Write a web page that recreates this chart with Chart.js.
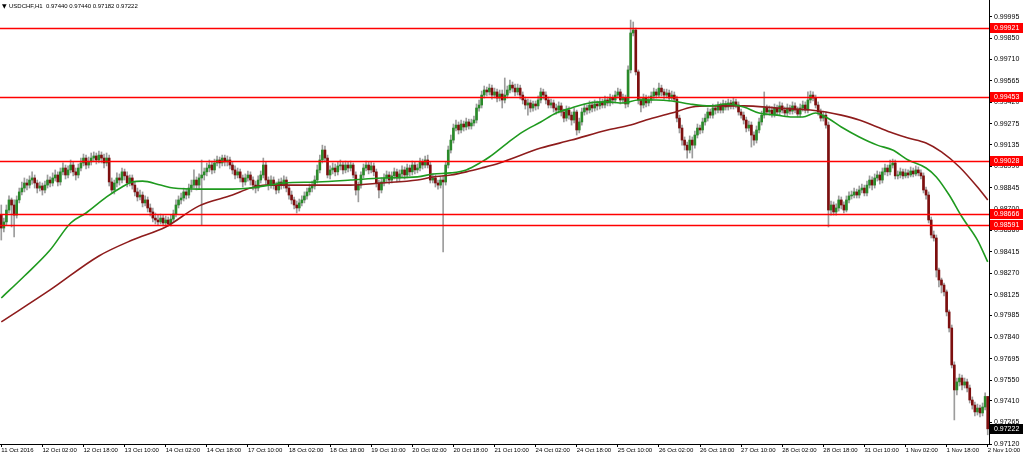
<!DOCTYPE html>
<html>
<head>
<meta charset="utf-8">
<title>USDCHF,H1</title>
<script src="https://cdn.jsdelivr.net/npm/chart.js@4.4.0/dist/chart.umd.min.js"></script>
<style>
    html, body { margin: 0; padding: 0; background: #fff; }
    #wrap { width: 1024px; height: 456px; }
</style>
</head>
<body>
<div id="wrap"><canvas id="priceChart"></canvas></div>
<script>
const symbolTitle = 'USDCHF,H1';
const lastQuote = [0.97440, 0.97440, 0.97182, 0.97222];

// one label every 16 hourly bars
const barsPerLabel = 16;
const timeLabels = ['11 Oct 2016', '12 Oct 02:00', '12 Oct 18:00', '13 Oct 10:00', '14 Oct 02:00', '14 Oct 18:00',
    '17 Oct 10:00', '18 Oct 02:00', '18 Oct 18:00', '19 Oct 10:00', '20 Oct 02:00', '20 Oct 18:00', '21 Oct 10:00',
    '24 Oct 02:00', '24 Oct 18:00', '25 Oct 10:00', '26 Oct 02:00', '26 Oct 18:00', '27 Oct 10:00', '28 Oct 02:00',
    '28 Oct 18:00', '31 Oct 10:00', '1 Nov 02:00', '1 Nov 18:00', '2 Nov 10:00'];

const priceTicks = [0.99995, 0.99850, 0.99710, 0.99565, 0.99420, 0.99275, 0.99135, 0.98990, 0.98845, 0.98700,
    0.98560, 0.98415, 0.98270, 0.98125, 0.97985, 0.97840, 0.97695, 0.97550, 0.97410, 0.97265, 0.97120];
const priceMin = 0.97120;
const priceMax = 1.00109;

const levels = [0.99921, 0.99453, 0.99028, 0.98666, 0.98591];

const opens = [
    0.98661, 0.98574, 0.98615, 0.98695, 0.98763, 0.98729, 0.98661, 0.98763, 0.98817, 0.98843,
    0.98877, 0.98863, 0.98897, 0.98911, 0.98877, 0.98843, 0.98857, 0.98830, 0.98863, 0.98897,
    0.98877, 0.98911, 0.98931, 0.98884, 0.98952, 0.98978, 0.98931, 0.98965, 0.98998, 0.98952,
    0.98931, 0.98978, 0.99012, 0.99045, 0.98998, 0.99019, 0.99045, 0.99059, 0.99032, 0.99065,
    0.99045, 0.99012, 0.99045, 0.98884, 0.98830, 0.98877, 0.98911, 0.98897, 0.98952, 0.98925,
    0.98877, 0.98911, 0.98863, 0.98817, 0.98783, 0.98796, 0.98743, 0.98763, 0.98709, 0.98682,
    0.98641, 0.98628, 0.98615, 0.98641, 0.98608, 0.98628, 0.98601, 0.98634, 0.98668, 0.98729,
    0.98763, 0.98776, 0.98817, 0.98796, 0.98843, 0.98863, 0.98897, 0.98863, 0.98911, 0.98931,
    0.98952, 0.98978, 0.98998, 0.98965, 0.99012, 0.99032, 0.99012, 0.99045, 0.99019, 0.99032,
    0.98998, 0.98965, 0.98931, 0.98952, 0.98911, 0.98884, 0.98911, 0.98931, 0.98897, 0.98863,
    0.98843, 0.98897, 0.98931, 0.98998, 0.98897, 0.98863, 0.98897, 0.98863, 0.98830, 0.98884,
    0.98863, 0.98897, 0.98843, 0.98796, 0.98763, 0.98729, 0.98709, 0.98743, 0.98763, 0.98790,
    0.98817, 0.98843, 0.98857, 0.98897, 0.98965, 0.99032, 0.99099, 0.99045, 0.98931, 0.98965,
    0.98978, 0.98952, 0.98992, 0.98998, 0.98965, 0.98998, 0.98978, 0.98998, 0.98931, 0.98830,
    0.98863, 0.98931, 0.98978, 0.98998, 0.98965, 0.98992, 0.98952, 0.98877, 0.98830, 0.98884,
    0.98911, 0.98931, 0.98897, 0.98925, 0.98952, 0.98911, 0.98938, 0.98965, 0.98931, 0.98978,
    0.98952, 0.98998, 0.98965, 0.98978, 0.99019, 0.98998, 0.99032, 0.98998, 0.98897, 0.98911,
    0.98877, 0.98863, 0.98897, 0.98884, 0.98998, 0.99099, 0.99166, 0.99247, 0.99267, 0.99234,
    0.99274, 0.99254, 0.99288, 0.99261, 0.99281, 0.99301, 0.99382, 0.99402, 0.99469, 0.99503,
    0.99490, 0.99516, 0.99469, 0.99490, 0.99449, 0.99476, 0.99436, 0.99469, 0.99503, 0.99536,
    0.99516, 0.99490, 0.99516, 0.99469, 0.99436, 0.99402, 0.99416, 0.99382, 0.99409, 0.99396,
    0.99436, 0.99490, 0.99469, 0.99436, 0.99402, 0.99416, 0.99382, 0.99368, 0.99396, 0.99355,
    0.99314, 0.99368, 0.99334, 0.99301, 0.99355, 0.99234, 0.99288, 0.99355, 0.99382, 0.99368,
    0.99402, 0.99382, 0.99409, 0.99396, 0.99423, 0.99402, 0.99436, 0.99416, 0.99449, 0.99436,
    0.99469, 0.99490, 0.99436, 0.99449, 0.99409, 0.99638, 0.99887, 0.99907, 0.99625, 0.99436,
    0.99402, 0.99449, 0.99416, 0.99436, 0.99463, 0.99490, 0.99469, 0.99516, 0.99490, 0.99469,
    0.99483, 0.99449, 0.99469, 0.99442, 0.99314, 0.99247, 0.99166, 0.99132, 0.99099, 0.99166,
    0.99132, 0.99200, 0.99247, 0.99234, 0.99288, 0.99314, 0.99355, 0.99334, 0.99382, 0.99368,
    0.99396, 0.99368, 0.99409, 0.99389, 0.99416, 0.99396, 0.99423, 0.99402, 0.99355, 0.99334,
    0.99301, 0.99247, 0.99267, 0.99200, 0.99166, 0.99234, 0.99288, 0.99334, 0.99382, 0.99355,
    0.99368, 0.99341, 0.99382, 0.99355, 0.99396, 0.99368, 0.99348, 0.99382, 0.99361, 0.99396,
    0.99368, 0.99341, 0.99382, 0.99402, 0.99368, 0.99436, 0.99469, 0.99449, 0.99402, 0.99355,
    0.99314, 0.99334, 0.99267, 0.98695, 0.98729, 0.98682, 0.98709, 0.98763, 0.98729, 0.98695,
    0.98763, 0.98790, 0.98796, 0.98817, 0.98796, 0.98830, 0.98843, 0.98810, 0.98863, 0.98897,
    0.98863, 0.98911, 0.98931, 0.98897, 0.98952, 0.98978, 0.98952, 0.98998, 0.99012, 0.98925,
    0.98931, 0.98952, 0.98925, 0.98945, 0.98931, 0.98958, 0.98938, 0.98965, 0.98945, 0.98925,
    0.98830, 0.98796, 0.98628, 0.98527, 0.98507, 0.98291, 0.98224, 0.98190, 0.98144, 0.98009,
    0.97901, 0.97652, 0.97484, 0.97538, 0.97564, 0.97517, 0.97538, 0.97497, 0.97416, 0.97382,
    0.97336, 0.97362, 0.97329, 0.97369, 0.97440
];

const highs = [
    0.98729, 0.98641, 0.98729, 0.98790, 0.98776, 0.98763, 0.98790, 0.98843, 0.98884, 0.98911,
    0.98904, 0.98925, 0.98952, 0.98931, 0.98897, 0.98884, 0.98877, 0.98890, 0.98931, 0.98918,
    0.98945, 0.98965, 0.98952, 0.98978, 0.99012, 0.98998, 0.98992, 0.99032, 0.99019, 0.98978,
    0.99005, 0.99045, 0.99072, 0.99065, 0.99052, 0.99079, 0.99086, 0.99079, 0.99092, 0.99086,
    0.99072, 0.99079, 0.99065, 0.98911, 0.98897, 0.98945, 0.98938, 0.98978, 0.98971, 0.98952,
    0.98931, 0.98931, 0.98884, 0.98843, 0.98830, 0.98817, 0.98790, 0.98783, 0.98736, 0.98709,
    0.98675, 0.98661, 0.98668, 0.98661, 0.98655, 0.98648, 0.98661, 0.98695, 0.98763, 0.98790,
    0.98810, 0.98843, 0.98836, 0.98870, 0.98897, 0.98965, 0.98918, 0.98938, 0.99032, 0.98978,
    0.99012, 0.99032, 0.99025, 0.99038, 0.99059, 0.99052, 0.99065, 0.99065, 0.99059, 0.99052,
    0.99019, 0.98992, 0.98978, 0.98971, 0.98931, 0.98938, 0.98958, 0.98952, 0.98918, 0.98890,
    0.98925, 0.98958, 0.99045, 0.99019, 0.98918, 0.98925, 0.98918, 0.98884, 0.98904, 0.98911,
    0.98925, 0.98918, 0.98863, 0.98823, 0.98783, 0.98756, 0.98769, 0.98790, 0.98817, 0.98843,
    0.98870, 0.98890, 0.98925, 0.98998, 0.99065, 0.99132, 0.99126, 0.99065, 0.98992, 0.99012,
    0.99005, 0.99019, 0.99032, 0.99019, 0.99025, 0.99019, 0.99025, 0.99012, 0.98952, 0.98884,
    0.98952, 0.99005, 0.99025, 0.99019, 0.99019, 0.99012, 0.98971, 0.98897, 0.98911, 0.98938,
    0.98958, 0.98952, 0.98952, 0.98978, 0.98971, 0.98965, 0.98992, 0.98985, 0.99005, 0.98998,
    0.99025, 0.99019, 0.99005, 0.99045, 0.99038, 0.99059, 0.99065, 0.99019, 0.98938, 0.98931,
    0.98897, 0.98918, 0.98925, 0.99019, 0.99126, 0.99200, 0.99274, 0.99301, 0.99288, 0.99301,
    0.99294, 0.99314, 0.99307, 0.99307, 0.99328, 0.99409, 0.99436, 0.99496, 0.99530, 0.99523,
    0.99543, 0.99536, 0.99516, 0.99509, 0.99503, 0.99503, 0.99584, 0.99530, 0.99570, 0.99557,
    0.99543, 0.99543, 0.99536, 0.99490, 0.99456, 0.99442, 0.99436, 0.99429, 0.99429, 0.99463,
    0.99516, 0.99509, 0.99490, 0.99456, 0.99442, 0.99436, 0.99409, 0.99423, 0.99416, 0.99375,
    0.99396, 0.99389, 0.99355, 0.99382, 0.99368, 0.99314, 0.99382, 0.99409, 0.99402, 0.99429,
    0.99423, 0.99436, 0.99429, 0.99449, 0.99442, 0.99463, 0.99456, 0.99476, 0.99469, 0.99496,
    0.99516, 0.99509, 0.99476, 0.99469, 0.99665, 0.99974, 0.99961, 0.99920, 0.99638, 0.99456,
    0.99476, 0.99469, 0.99463, 0.99490, 0.99516, 0.99509, 0.99550, 0.99536, 0.99509, 0.99509,
    0.99503, 0.99496, 0.99490, 0.99463, 0.99334, 0.99267, 0.99187, 0.99153, 0.99194, 0.99187,
    0.99227, 0.99274, 0.99267, 0.99314, 0.99341, 0.99382, 0.99375, 0.99409, 0.99402, 0.99423,
    0.99416, 0.99436, 0.99429, 0.99442, 0.99436, 0.99449, 0.99442, 0.99423, 0.99375, 0.99355,
    0.99321, 0.99294, 0.99288, 0.99221, 0.99261, 0.99314, 0.99361, 0.99490, 0.99402, 0.99396,
    0.99389, 0.99409, 0.99402, 0.99423, 0.99416, 0.99389, 0.99409, 0.99402, 0.99423, 0.99416,
    0.99389, 0.99409, 0.99429, 0.99423, 0.99490, 0.99496, 0.99490, 0.99469, 0.99423, 0.99375,
    0.99361, 0.99355, 0.99288, 0.98756, 0.98750, 0.98736, 0.98790, 0.98783, 0.98750, 0.98790,
    0.98817, 0.98823, 0.98843, 0.98836, 0.98857, 0.98870, 0.98863, 0.98890, 0.98925, 0.98918,
    0.98938, 0.98958, 0.98952, 0.98978, 0.99005, 0.98998, 0.99032, 0.99038, 0.99032, 0.98958,
    0.98978, 0.98971, 0.98971, 0.98965, 0.98985, 0.98978, 0.98992, 0.98985, 0.98965, 0.98945,
    0.98850, 0.98817, 0.98648, 0.98554, 0.98527, 0.98305, 0.98237, 0.98204, 0.98157, 0.98022,
    0.97921, 0.97673, 0.97564, 0.97591, 0.97584, 0.97564, 0.97557, 0.97517, 0.97437, 0.97403,
    0.97389, 0.97382, 0.97396, 0.97464, 0.97440
];

const lows = [
    0.98493, 0.98548, 0.98594, 0.98675, 0.98581, 0.98514, 0.98641, 0.98743, 0.98796, 0.98817,
    0.98830, 0.98843, 0.98870, 0.98843, 0.98810, 0.98823, 0.98796, 0.98810, 0.98843, 0.98850,
    0.98857, 0.98890, 0.98857, 0.98863, 0.98931, 0.98904, 0.98911, 0.98945, 0.98925, 0.98897,
    0.98911, 0.98958, 0.98992, 0.98971, 0.98978, 0.98998, 0.99019, 0.99005, 0.99012, 0.99012,
    0.98978, 0.98992, 0.98857, 0.98810, 0.98803, 0.98850, 0.98863, 0.98877, 0.98897, 0.98850,
    0.98857, 0.98836, 0.98790, 0.98756, 0.98763, 0.98716, 0.98723, 0.98682, 0.98655, 0.98615,
    0.98601, 0.98594, 0.98601, 0.98588, 0.98594, 0.98588, 0.98588, 0.98621, 0.98648, 0.98709,
    0.98736, 0.98756, 0.98769, 0.98776, 0.98817, 0.98843, 0.98830, 0.98836, 0.98594, 0.98897,
    0.98925, 0.98952, 0.98938, 0.98945, 0.98992, 0.98978, 0.98992, 0.98992, 0.98992, 0.98971,
    0.98938, 0.98904, 0.98911, 0.98884, 0.98850, 0.98863, 0.98890, 0.98863, 0.98830, 0.98810,
    0.98823, 0.98877, 0.98911, 0.98870, 0.98830, 0.98843, 0.98836, 0.98803, 0.98810, 0.98836,
    0.98843, 0.98817, 0.98769, 0.98736, 0.98702, 0.98675, 0.98688, 0.98723, 0.98743, 0.98769,
    0.98796, 0.98817, 0.98836, 0.98877, 0.98945, 0.99012, 0.99019, 0.98911, 0.98904, 0.98938,
    0.98925, 0.98931, 0.98965, 0.98938, 0.98945, 0.98952, 0.98958, 0.98911, 0.98796, 0.98750,
    0.98843, 0.98911, 0.98958, 0.98938, 0.98945, 0.98925, 0.98850, 0.98776, 0.98810, 0.98857,
    0.98884, 0.98870, 0.98877, 0.98904, 0.98884, 0.98890, 0.98918, 0.98904, 0.98911, 0.98925,
    0.98931, 0.98938, 0.98945, 0.98958, 0.98971, 0.98978, 0.98978, 0.98877, 0.98877, 0.98850,
    0.98836, 0.98843, 0.98413, 0.98863, 0.98978, 0.99079, 0.99146, 0.99227, 0.99207, 0.99214,
    0.99227, 0.99234, 0.99240, 0.99240, 0.99261, 0.99281, 0.99361, 0.99382, 0.99449, 0.99463,
    0.99469, 0.99442, 0.99449, 0.99423, 0.99429, 0.99382, 0.99416, 0.99449, 0.99483, 0.99490,
    0.99463, 0.99469, 0.99442, 0.99409, 0.99375, 0.99334, 0.99355, 0.99361, 0.99368, 0.99375,
    0.99416, 0.99442, 0.99409, 0.99382, 0.99382, 0.99355, 0.99341, 0.99348, 0.99328, 0.99288,
    0.99294, 0.99307, 0.99267, 0.99281, 0.99200, 0.99214, 0.99267, 0.99334, 0.99341, 0.99348,
    0.99355, 0.99361, 0.99368, 0.99375, 0.99382, 0.99382, 0.99396, 0.99396, 0.99409, 0.99416,
    0.99449, 0.99409, 0.99416, 0.99382, 0.99389, 0.99618, 0.99867, 0.99604, 0.99409, 0.99355,
    0.99382, 0.99389, 0.99396, 0.99416, 0.99442, 0.99449, 0.99456, 0.99463, 0.99442, 0.99449,
    0.99429, 0.99436, 0.99423, 0.99288, 0.99214, 0.99132, 0.99099, 0.99045, 0.99079, 0.99045,
    0.99112, 0.99180, 0.99207, 0.99214, 0.99267, 0.99294, 0.99314, 0.99314, 0.99341, 0.99348,
    0.99348, 0.99348, 0.99368, 0.99368, 0.99375, 0.99375, 0.99382, 0.99334, 0.99314, 0.99274,
    0.99221, 0.99227, 0.99119, 0.99132, 0.99146, 0.99214, 0.99267, 0.99314, 0.99334, 0.99334,
    0.99321, 0.99321, 0.99334, 0.99334, 0.99348, 0.99328, 0.99328, 0.99341, 0.99341, 0.99348,
    0.99321, 0.99321, 0.99361, 0.99348, 0.99348, 0.99416, 0.99429, 0.99382, 0.99334, 0.99294,
    0.99294, 0.99247, 0.98581, 0.98661, 0.98661, 0.98661, 0.98688, 0.98702, 0.98675, 0.98682,
    0.98743, 0.98769, 0.98776, 0.98776, 0.98776, 0.98810, 0.98790, 0.98790, 0.98843, 0.98830,
    0.98843, 0.98890, 0.98870, 0.98877, 0.98931, 0.98925, 0.98931, 0.98978, 0.98904, 0.98904,
    0.98911, 0.98904, 0.98911, 0.98911, 0.98918, 0.98918, 0.98925, 0.98925, 0.98904, 0.98810,
    0.98769, 0.98608, 0.98507, 0.98486, 0.98244, 0.98177, 0.98137, 0.98117, 0.97982, 0.97874,
    0.97632, 0.97282, 0.97450, 0.97511, 0.97484, 0.97497, 0.97471, 0.97396, 0.97355, 0.97309,
    0.97315, 0.97302, 0.97309, 0.97349, 0.97182
];

const closes = [
    0.98574, 0.98615, 0.98695, 0.98763, 0.98729, 0.98661, 0.98763, 0.98817, 0.98843, 0.98877,
    0.98863, 0.98897, 0.98911, 0.98877, 0.98843, 0.98857, 0.98830, 0.98863, 0.98897, 0.98877,
    0.98911, 0.98931, 0.98884, 0.98952, 0.98978, 0.98931, 0.98965, 0.98998, 0.98952, 0.98931,
    0.98978, 0.99012, 0.99045, 0.98998, 0.99019, 0.99045, 0.99059, 0.99032, 0.99065, 0.99045,
    0.99012, 0.99045, 0.98884, 0.98830, 0.98877, 0.98911, 0.98897, 0.98952, 0.98925, 0.98877,
    0.98911, 0.98863, 0.98817, 0.98783, 0.98796, 0.98743, 0.98763, 0.98709, 0.98682, 0.98641,
    0.98628, 0.98615, 0.98641, 0.98608, 0.98628, 0.98601, 0.98634, 0.98668, 0.98729, 0.98763,
    0.98776, 0.98817, 0.98796, 0.98843, 0.98863, 0.98897, 0.98863, 0.98911, 0.98931, 0.98952,
    0.98978, 0.98998, 0.98965, 0.99012, 0.99032, 0.99012, 0.99045, 0.99019, 0.99032, 0.98998,
    0.98965, 0.98931, 0.98952, 0.98911, 0.98884, 0.98911, 0.98931, 0.98897, 0.98863, 0.98843,
    0.98897, 0.98931, 0.98998, 0.98897, 0.98863, 0.98897, 0.98863, 0.98830, 0.98884, 0.98863,
    0.98897, 0.98843, 0.98796, 0.98763, 0.98729, 0.98709, 0.98743, 0.98763, 0.98790, 0.98817,
    0.98843, 0.98857, 0.98897, 0.98965, 0.99032, 0.99099, 0.99045, 0.98931, 0.98965, 0.98978,
    0.98952, 0.98992, 0.98998, 0.98965, 0.98998, 0.98978, 0.98998, 0.98931, 0.98830, 0.98863,
    0.98931, 0.98978, 0.98998, 0.98965, 0.98992, 0.98952, 0.98877, 0.98830, 0.98884, 0.98911,
    0.98931, 0.98897, 0.98925, 0.98952, 0.98911, 0.98938, 0.98965, 0.98931, 0.98978, 0.98952,
    0.98998, 0.98965, 0.98978, 0.99019, 0.98998, 0.99032, 0.98998, 0.98897, 0.98911, 0.98877,
    0.98863, 0.98897, 0.98884, 0.98998, 0.99099, 0.99166, 0.99247, 0.99267, 0.99234, 0.99274,
    0.99254, 0.99288, 0.99261, 0.99281, 0.99301, 0.99382, 0.99402, 0.99469, 0.99503, 0.99490,
    0.99516, 0.99469, 0.99490, 0.99449, 0.99476, 0.99436, 0.99469, 0.99503, 0.99536, 0.99516,
    0.99490, 0.99516, 0.99469, 0.99436, 0.99402, 0.99416, 0.99382, 0.99409, 0.99396, 0.99436,
    0.99490, 0.99469, 0.99436, 0.99402, 0.99416, 0.99382, 0.99368, 0.99396, 0.99355, 0.99314,
    0.99368, 0.99334, 0.99301, 0.99355, 0.99234, 0.99288, 0.99355, 0.99382, 0.99368, 0.99402,
    0.99382, 0.99409, 0.99396, 0.99423, 0.99402, 0.99436, 0.99416, 0.99449, 0.99436, 0.99469,
    0.99490, 0.99436, 0.99449, 0.99409, 0.99638, 0.99887, 0.99907, 0.99625, 0.99436, 0.99402,
    0.99449, 0.99416, 0.99436, 0.99463, 0.99490, 0.99469, 0.99516, 0.99490, 0.99469, 0.99483,
    0.99449, 0.99469, 0.99442, 0.99314, 0.99247, 0.99166, 0.99132, 0.99099, 0.99166, 0.99132,
    0.99200, 0.99247, 0.99234, 0.99288, 0.99314, 0.99355, 0.99334, 0.99382, 0.99368, 0.99396,
    0.99368, 0.99409, 0.99389, 0.99416, 0.99396, 0.99423, 0.99402, 0.99355, 0.99334, 0.99301,
    0.99247, 0.99267, 0.99200, 0.99166, 0.99234, 0.99288, 0.99334, 0.99382, 0.99355, 0.99368,
    0.99341, 0.99382, 0.99355, 0.99396, 0.99368, 0.99348, 0.99382, 0.99361, 0.99396, 0.99368,
    0.99341, 0.99382, 0.99402, 0.99368, 0.99436, 0.99469, 0.99449, 0.99402, 0.99355, 0.99314,
    0.99334, 0.99267, 0.98695, 0.98729, 0.98682, 0.98709, 0.98763, 0.98729, 0.98695, 0.98763,
    0.98790, 0.98796, 0.98817, 0.98796, 0.98830, 0.98843, 0.98810, 0.98863, 0.98897, 0.98863,
    0.98911, 0.98931, 0.98897, 0.98952, 0.98978, 0.98952, 0.98998, 0.99012, 0.98925, 0.98931,
    0.98952, 0.98925, 0.98945, 0.98931, 0.98958, 0.98938, 0.98965, 0.98945, 0.98925, 0.98830,
    0.98796, 0.98628, 0.98527, 0.98507, 0.98291, 0.98224, 0.98190, 0.98144, 0.98009, 0.97901,
    0.97652, 0.97484, 0.97538, 0.97564, 0.97517, 0.97538, 0.97497, 0.97416, 0.97382, 0.97336,
    0.97362, 0.97329, 0.97369, 0.97440, 0.97222
];

// moving averages at these bar positions
const fastMaBars = [0, 9, 19, 27, 33, 41, 47, 51, 55, 62, 67, 77, 90, 97, 110, 123, 136, 148, 162, 168,
    175, 181, 187, 190, 197, 203, 210, 216, 222, 229, 236, 242, 248, 255, 261, 268, 276, 282, 289, 295,
    302, 308, 312, 317, 321, 327, 334, 341, 347, 353, 360, 364, 369, 374, 380, 384];
const fastMa = [0.98103, 0.98251, 0.98426, 0.98608, 0.98675, 0.98783, 0.98850, 0.98884, 0.98890, 0.98863,
    0.98843, 0.98836, 0.98836, 0.98843, 0.98877, 0.98884, 0.98897, 0.98911, 0.98918, 0.98938,
    0.98945, 0.98965, 0.99019, 0.99052, 0.99146, 0.99221, 0.99288, 0.99348, 0.99382, 0.99416,
    0.99423, 0.99416, 0.99436, 0.99436, 0.99429, 0.99409, 0.99396, 0.99409, 0.99389, 0.99348,
    0.99334, 0.99321, 0.99321, 0.99348, 0.99321, 0.99254, 0.99187, 0.99132, 0.99099, 0.99032,
    0.98978, 0.98918, 0.98796, 0.98648, 0.98493, 0.98346];

const slowMaBars = [0, 19, 38, 51, 64, 77, 90, 97, 103, 116, 136, 148, 162, 168, 175, 181, 187, 194,
    210, 222, 236, 245, 251, 261, 269, 276, 289, 302, 315, 321, 327, 334, 341, 347, 353, 360, 366,
    373, 380, 384];
const slowMa = [0.97942, 0.98157, 0.98386, 0.98493, 0.98581, 0.98723, 0.98796, 0.98843, 0.98863, 0.98863,
    0.98863, 0.98877, 0.98897, 0.98918, 0.98931, 0.98952, 0.98978, 0.99012, 0.99112, 0.99166,
    0.99234, 0.99267, 0.99301, 0.99348, 0.99389, 0.99396, 0.99396, 0.99382, 0.99368, 0.99355,
    0.99334, 0.99301, 0.99254, 0.99214, 0.99180, 0.99146, 0.99086, 0.98985, 0.98850, 0.98763];

const BULL = '#2a8a2a';
const BEAR = '#7d0f0f';
const WICK = '#9c9c9c';
const FONT = 'Liberation Sans, Arial, sans-serif';

function sparse(bars, values) {
    const out = new Array(closes.length).fill(null);
    bars.forEach((bar, i) => { out[bar] = values[i]; });
    return out;
}

function priceTag(ctx, x, y, text, fill) {
    ctx.fillStyle = fill;
    ctx.fillRect(x, Math.round(y) - 5, 33, 10);
    ctx.fillStyle = '#fff';
    ctx.font = `7px ${FONT}`;
    ctx.textBaseline = 'middle';
    ctx.textAlign = 'left';
    ctx.fillText(text, x + 4, Math.round(y) + 0.5);
}

const overlay = {
    id: 'overlay',
    afterDatasetsDraw(chart) {
        const { ctx, chartArea, scales: { y } } = chart;
        ctx.save();
        ctx.strokeStyle = '#ff0000';
        ctx.lineWidth = 1.6;
        levels.forEach(v => {
            const py = Math.round(y.getPixelForValue(v)) + 0.5;
            ctx.beginPath();
            ctx.moveTo(chartArea.left, py);
            ctx.lineTo(chartArea.right, py);
            ctx.stroke();
        });
        ctx.restore();
    },
    afterDraw(chart) {
        const { ctx, chartArea, scales: { y } } = chart;
        ctx.save();
        levels.forEach(v => priceTag(ctx, chartArea.right + 1, y.getPixelForValue(v), v.toFixed(5), '#ff0000'));
        const last = lastQuote[3];
        priceTag(ctx, chartArea.right + 1, y.getPixelForValue(last), last.toFixed(5), '#000');

        ctx.fillStyle = '#000';
        ctx.textBaseline = 'middle';
        ctx.textAlign = 'left';
        ctx.font = `6px DejaVu Sans, sans-serif`;
        ctx.fillText('\u25BC', 2, 6);
        ctx.font = `6px ${FONT}`;
        ctx.fillText(`${symbolTitle}  ${lastQuote.map(v => v.toFixed(5)).join(' ')}`, 9, 6);
        ctx.restore();
    }
};

document.addEventListener('DOMContentLoaded', () => {
    const ctx = document.getElementById('priceChart').getContext('2d');

    new Chart(ctx, {
        type: 'bar',
        data: {
            labels: closes.map((_, i) => i),
            datasets: [
                {
                    type: 'line',
                    label: 'Fast MA',
                    data: sparse(fastMaBars, fastMa),
                    borderColor: '#1f9a1f',
                    borderWidth: 1.6,
                    pointRadius: 0,
                    spanGaps: true,
                    cubicInterpolationMode: 'monotone',
                    order: 0
                },
                {
                    type: 'line',
                    label: 'Slow MA',
                    data: sparse(slowMaBars, slowMa),
                    borderColor: '#8e1c1c',
                    borderWidth: 1.6,
                    pointRadius: 0,
                    spanGaps: true,
                    cubicInterpolationMode: 'monotone',
                    order: 0
                },
                {
                    label: 'Body',
                    data: closes.map((c, i) => [opens[i], c]),
                    backgroundColor: closes.map((c, i) => c >= opens[i] ? BULL : BEAR),
                    barThickness: 2,
                    minBarLength: 1,
                    grouped: false,
                    order: 1
                },
                {
                    label: 'Wick',
                    data: lows.map((l, i) => [l, highs[i]]),
                    backgroundColor: WICK,
                    barThickness: 1,
                    grouped: false,
                    order: 2
                }
            ]
        },
        options: {
            responsive: true,
            maintainAspectRatio: false,
            animation: false,
            events: [],
            layout: { padding: 0 },
            plugins: {
                legend: { display: false },
                tooltip: { enabled: false }
            },
            scales: {
                x: {
                    type: 'category',
                    offset: true,
                    grid: { drawOnChartArea: false, offset: false, tickLength: 3, tickColor: '#000' },
                    border: { color: '#000' },
                    ticks: {
                        autoSkip: false,
                        maxRotation: 0,
                        minRotation: 0,
                        align: 'start',
                        padding: 0,
                        color: '#000',
                        font: { family: FONT, size: 6 },
                        callback: value => timeLabels[value / barsPerLabel]
                    },
                    afterBuildTicks: scale => {
                        scale.ticks = scale.ticks.filter(t => t.value % barsPerLabel === 0);
                    },
                    afterFit: scale => {
                        scale.height = 12;
                        scale.paddingLeft = 0;
                        scale.paddingRight = 0;
                    }
                },
                y: {
                    type: 'linear',
                    position: 'right',
                    min: priceMin,
                    max: priceMax,
                    bounds: 'data',
                    grid: { drawOnChartArea: false, tickLength: 3, tickColor: '#000' },
                    border: { color: '#000' },
                    ticks: {
                        padding: 2,
                        color: '#000',
                        font: { family: FONT, size: 7 },
                        callback: value => value.toFixed(5)
                    },
                    afterBuildTicks: scale => {
                        scale.ticks = priceTicks.map(v => ({ value: v }));
                    },
                    afterFit: scale => {
                        scale.width = 35;
                        scale.paddingTop = 0;
                        scale.paddingBottom = 0;
                    }
                }
            }
        },
        plugins: [overlay]
    });
});
</script>
</body>
</html>
